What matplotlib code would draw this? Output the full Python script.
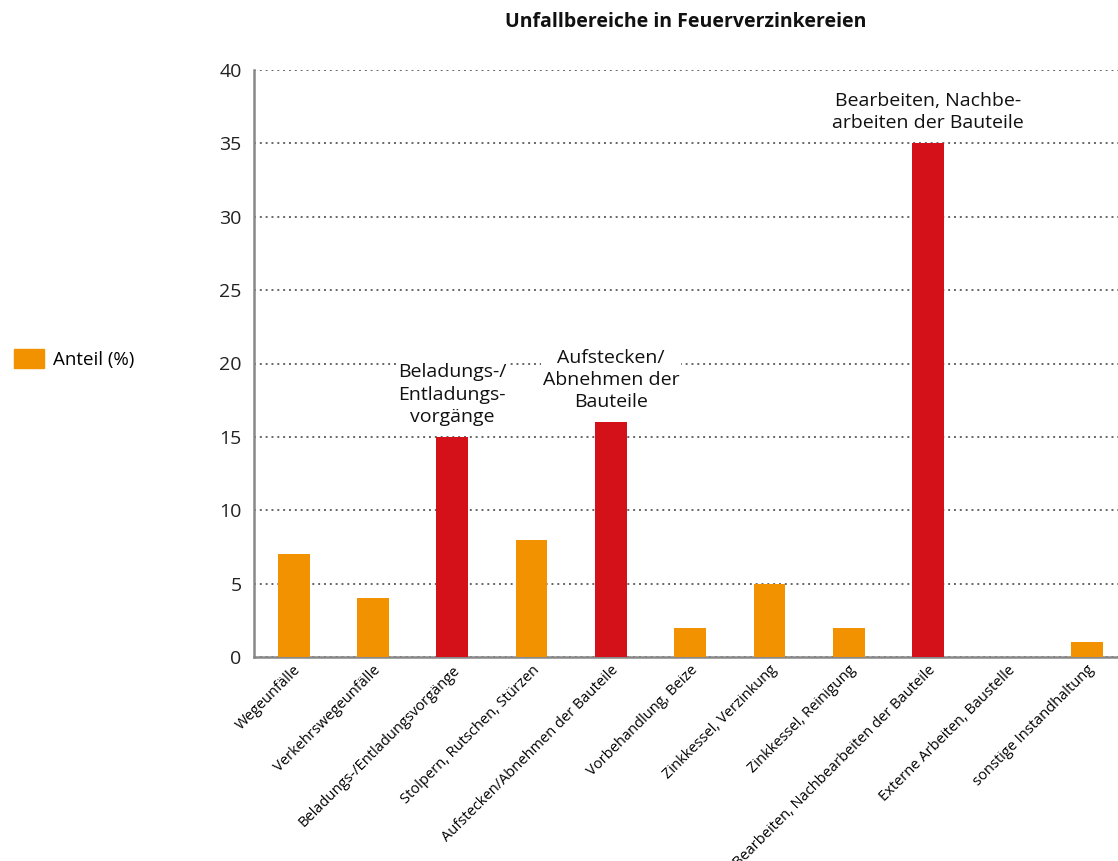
import matplotlib
matplotlib.use('Agg')
import matplotlib.pyplot as plt
from matplotlib.patches import Patch
import numpy as np

plt.rcParams['font.family'] = ['Open Sans', 'DejaVu Sans']

categories = ['Wegeunfälle', 'Verkehrswegeunfälle', 'Beladungs-/Entladungsvorgänge',
              'Stolpern, Rutschen, Stürzen', 'Aufstecken/Abnehmen der Bauteile',
              'Vorbehandlung, Beize', 'Zinkkessel, Verzinkung', 'Zinkkessel, Reinigung',
              'Bearbeiten, Nachbearbeiten der Bauteile', 'Externe Arbeiten, Baustelle',
              'sonstige Instandhaltung']
anteil = [7, 4, 15, 8, 16, 2, 5, 2, 35, 0, 1]
highlight = [False, False, True, False, True, False, False, False, True, False, False]
callouts = {2: 'Beladungs-/\nEntladungs-\nvorgänge',
            4: 'Aufstecken/\nAbnehmen der\nBauteile',
            8: 'Bearbeiten, Nachbe-\narbeiten der Bauteile'}

ORANGE = '#f39200'
RED = '#d41118'

fig = plt.figure(figsize=(11.18, 8.61), dpi=100)
ax = fig.add_axes([254 / 1118, 1 - 657 / 861, 864 / 1118, 587 / 861])

x = np.arange(len(categories))
colors = [RED if h else ORANGE for h in highlight]
ax.bar(x, anteil, width=0.4, color=colors, zorder=3)

ax.set_ylim(0, 40)
ax.set_yticks(range(0, 41, 5))
ax.set_xlim(-0.5, 10.395)
ax.yaxis.grid(True, linestyle=(0, (1, 2)), color='#666666', linewidth=1.4, zorder=0)
ax.set_axisbelow(True)

for s in ['top', 'right']:
    ax.spines[s].set_visible(False)
for s in ['left', 'bottom']:
    ax.spines[s].set_color('#888888')
    ax.spines[s].set_linewidth(1.8)

ax.tick_params(axis='y', length=0, labelsize=14, pad=9, colors='#222222')
ax.tick_params(axis='x', length=0, labelsize=10.5, pad=4)
ax.set_xticks(x)
ax.set_xticklabels(categories, rotation=45, ha='right', va='top', rotation_mode='anchor')

for i, txt in callouts.items():
    ax.annotate(txt, xy=(x[i], anteil[i]), xytext=(0, 8), textcoords='offset points',
                ha='center', va='bottom', fontsize=14, linespacing=1.3, color='#111111',
                bbox=dict(boxstyle='square,pad=0.1', fc='white', ec='none'), zorder=4)

fig.text(686 / 1118, 1 - 22 / 861, 'Unfallbereiche in Feuerverzinkereien',
         ha='center', va='center', fontsize=14, fontweight='bold', color='#111111')

fig.legend(handles=[Patch(color=ORANGE, label='Anteil (%)')], loc='center left',
           bbox_to_anchor=(-0.003, 1 - 359 / 861), frameon=False, fontsize=13.5,
           handlelength=1.6, handleheight=1.2, handletextpad=0.5)

fig.savefig('out.png', dpi=100)
